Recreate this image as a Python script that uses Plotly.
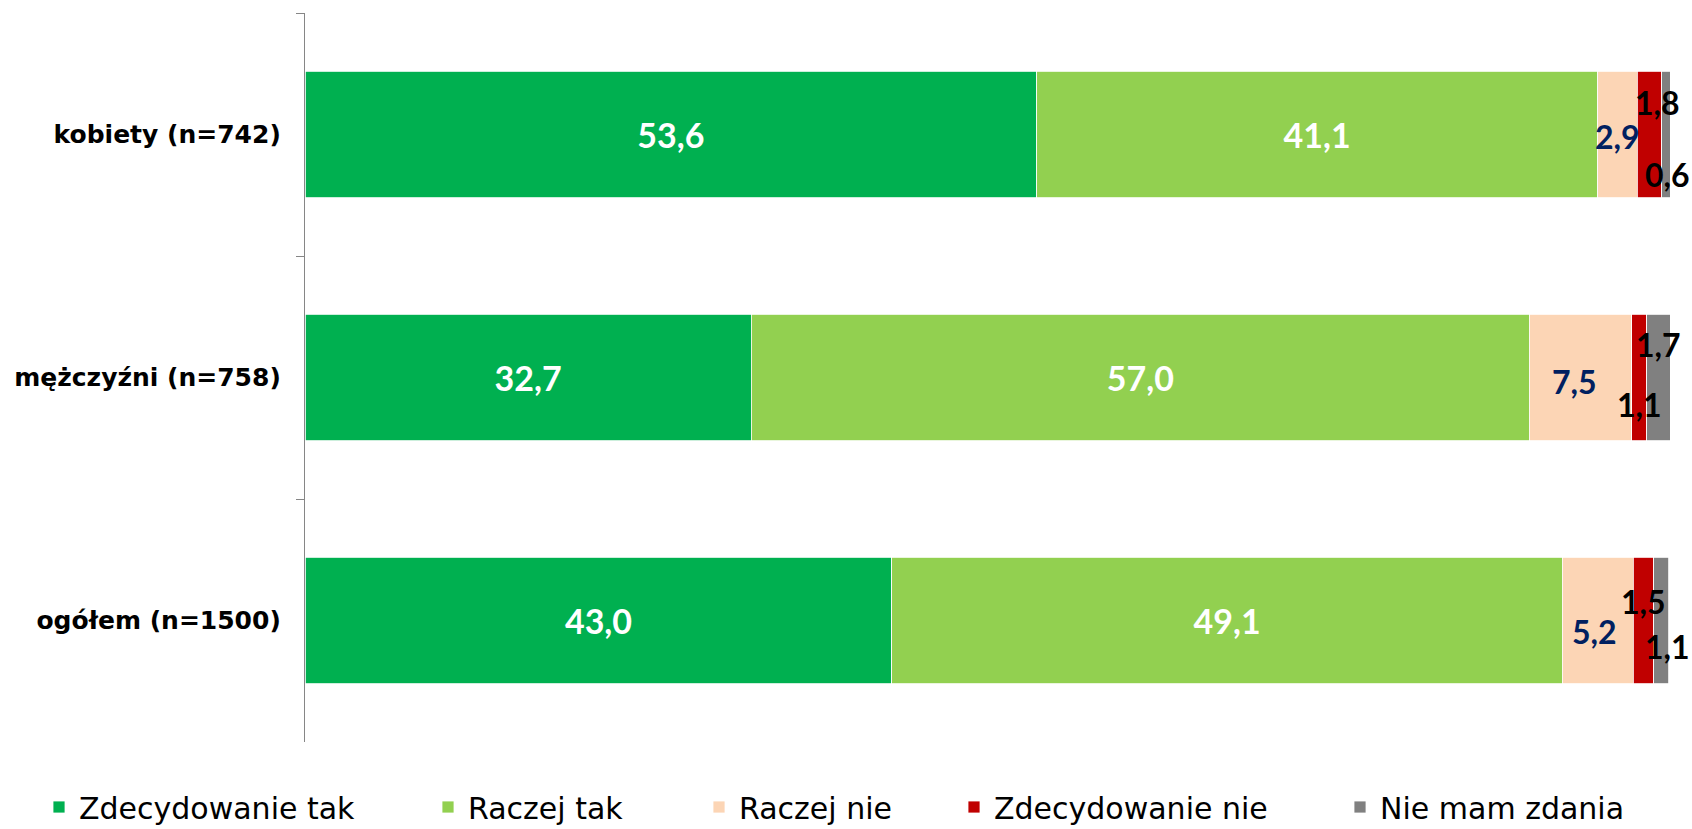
import plotly.graph_objects as go

categories = ["kobiety (n=742)", "mężczyźni (n=758)", "ogółem (n=1500)"]
series_names = ["Zdecydowanie tak", "Raczej tak", "Raczej nie", "Zdecydowanie nie", "Nie mam zdania"]
zdecydowanie_tak = [53.6, 32.7, 43.0]
raczej_tak = [41.1, 57.0, 49.1]
raczej_nie = [2.9, 7.5, 5.2]
zdecydowanie_nie = [1.8, 1.1, 1.5]
nie_mam_zdania = [0.6, 1.7, 1.1]
series_values = [zdecydowanie_tak, raczej_tak, raczej_nie, zdecydowanie_nie, nie_mam_zdania]

# styles
colors = ["#00B050", "#92D050", "#FCD5B5", "#C00000", "#808080"]
label_colors = ["white", "white", "#002060", "black", "black"]
# manual label offsets (xshift, yshift) in pixels for the small segments, per series -> per category
label_offsets = {
    2: [(0, -2), (-6, -4), (-3, -11)],
    3: [(8, 32), (0, -27), (0, 19)],
    4: [(2, -40), (0, 33), (6, -26)],
}
legend_square_left_px = [53, 442, 713, 968, 1354]

W, H = 1692, 829
LBL_FONT = "Lato"

fig = go.Figure()
for i, (name, vals) in enumerate(zip(series_names, series_values)):
    show_text = i < 2
    fig.add_trace(go.Bar(
        y=categories, x=vals, name=name, orientation="h",
        marker=dict(color=colors[i], line=dict(color="white", width=0.8)),
        text=[f"{v:.1f}".replace(".", ",") for v in vals] if show_text else None,
        textposition="inside" if show_text else "none",
        insidetextanchor="middle",
        constraintext="none",
        textangle=0,
        insidetextfont=dict(family=LBL_FONT, size=34, color=label_colors[i], weight="bold"),
        legend="legend" if i == 0 else f"legend{i+1}",
        showlegend=True,
        hoverinfo="skip",
    ))

annotations = []
for i in (2, 3, 4):
    for j, cat in enumerate(categories):
        start = sum(series_values[k][j] for k in range(i))
        center = start + series_values[i][j] / 2
        dx, dy = label_offsets[i][j]
        annotations.append(dict(
            x=center, y=cat, xref="x", yref="y",
            text=f"{series_values[i][j]:.1f}".replace(".", ","),
            showarrow=False, xshift=dx, yshift=dy,
            font=dict(family=LBL_FONT, size=32, color=label_colors[i], weight="bold"),
        ))

legend_layouts = {}
for i, px in enumerate(legend_square_left_px):
    key = "legend" if i == 0 else f"legend{i+1}"
    legend_layouts[key] = dict(
        xref="container", yref="container",
        x=(px - 14) / W, y=1 - 807 / H,
        xanchor="left", yanchor="middle",
        orientation="h",
        font=dict(family="DejaVu Sans", size=30, color="black"),
        bgcolor="rgba(0,0,0,0)", borderwidth=0,
        visible=True,
    )

fig.update_layout(
    width=W, height=H,
    showlegend=True,
    barmode="stack",
    bargap=0.48,
    plot_bgcolor="white", paper_bgcolor="white",
    margin=dict(l=305, r=22, t=13, b=87, autoexpand=False),
    xaxis=dict(range=[0, 100], visible=False, fixedrange=True, automargin=False),
    yaxis=dict(
        autorange="reversed", automargin=False,
        showline=True, linecolor="#868686", linewidth=1.3,
        ticks="outside", tickson="boundaries", ticklen=8, tickcolor="#868686", tickwidth=1.3,
        ticklabelstandoff=18,
        tickfont=dict(family="DejaVu Sans", size=25, color="black", weight="bold"),
        showgrid=False, zeroline=False,
    ),
    annotations=annotations,
    **legend_layouts,
)

fig.write_html(
    "out.html",
    config={"displayModeBar": False},
    post_script="document.body.style.margin='0';document.body.style.overflow='hidden';",
)
